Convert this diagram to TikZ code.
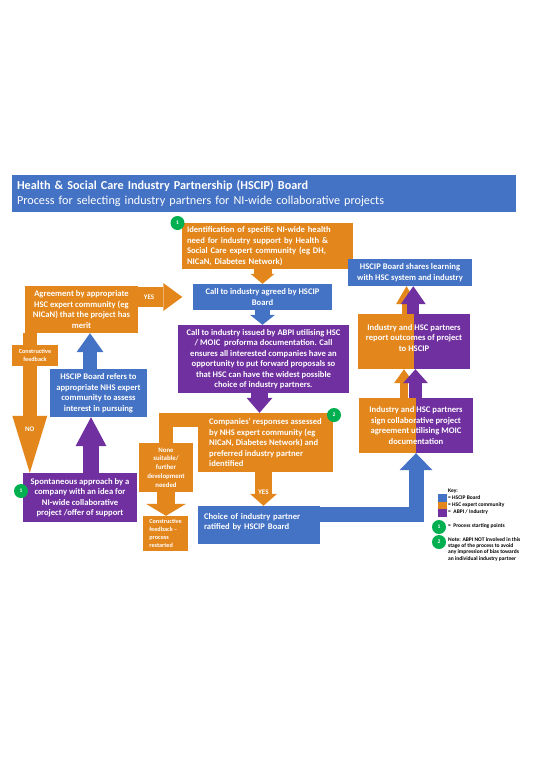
\documentclass[tikz,border=0pt]{standalone}
\usepackage{fontspec}
\setmainfont{Carlito}
\usetikzlibrary{arrows.meta,positioning}
\definecolor{hscblue}{HTML}{4472C4}
\definecolor{hscorange}{HTML}{E3861B}
\definecolor{hscpurple}{HTML}{7030A0}
\definecolor{hscgreen}{HTML}{00B050}

\begin{document}
\begin{tikzpicture}[
  x=1pt, y=-1pt,
  every node/.style={text=white, font=\bfseries\fontsize{8.6}{10.5}\selectfont, inner sep=0pt},
  hscbox/.style={rectangle, align=center},
  bluebox/.style={hscbox, fill=hscblue},
  orangebox/.style={hscbox, fill=hscorange},
  purplebox/.style={hscbox, fill=hscpurple},
  splitbox/.style={hscbox, path picture={
      \fill[hscorange] (path picture bounding box.south west) rectangle (path picture bounding box.north);
      \fill[hscpurple] (path picture bounding box.north) rectangle (path picture bounding box.south east);}},
  boxsize/.style 2 args={minimum width=#1, minimum height=#2},
  smalltext/.style={font=\bfseries\fontsize{6.2}{7.8}\selectfont},
  keytext/.style={text=black, font=\bfseries\fontsize{5.5}{6.4}\selectfont, anchor=west, align=left},
  startpt/.style={circle, fill=hscgreen, minimum size=14pt, font=\bfseries\fontsize{5.5}{6}\selectfont},
  fat/.style n args={3}{line width=#1, line join=miter, -{Triangle[width=#2, length=#3, line width=0pt]}},
  band/.style={line width=#1, line join=miter}
]
  \path [fill=white, use as bounding box] (0,0) rectangle (540,764);

  \node (title) [bluebox, boxsize={504pt}{37pt}, align=left, text width=494pt, font=\fontsize{12.2}{15}\selectfont] at (264,193.5)
    {\textbf{Health \& Social Care Industry Partnership (HSCIP) Board}\\Process for selecting industry partners for NI-wide collaborative projects};

  % middle column
  \node (ident) [orangebox, boxsize={171pt}{46pt}, align=left, text width=161pt] at (267.5,246)
    {Identification of specific NI-wide health\\need for industry support by Health \&\\Social Care expert community (eg DH,\\NICaN, Diabetes Network)};
  \node (callagreed) [bluebox, boxsize={139pt}{26pt}] at (262.5,297) {Call to industry agreed by HSCIP\\Board};
  \node (callissued) [purplebox, boxsize={171pt}{68pt}] at (263.5,359)
    {Call to industry issued by ABPI utilising HSC\\/ MOIC~ proforma documentation. Call\\ensures all interested companies have an\\opportunity to put forward proposals so\\that HSC can have the widest possible\\choice of industry partners.};
  \node (companies) [orangebox, boxsize={135pt}{59pt}, align=left] at (265.5,442.5)
    {Companies’ responses assessed\\by NHS expert community (eg\\NICaN, Diabetes Network) and\\preferred industry partner\\identified};
  \node (nonesuit) [orangebox, boxsize={54pt}{49pt}, font=\bfseries\fontsize{6.8}{8.8}\selectfont] at (166,467.5)
    {None\\suitable/\\further\\development\\needed};
  \node (restart) [orangebox, boxsize={45pt}{35pt}, align=left, smalltext] at (165.5,533.5)
    {Constructive\\feedback –\\process\\restarted};
  \node (choice) [bluebox, boxsize={122pt}{38pt}, align=left, text width=110pt] at (259,525)
    {Choice of industry partner\\ratified by HSCIP Board\\[-3pt]~};

  % right column
  \node (sign) [splitbox, boxsize={114pt}{55pt}] at (416,425.5)
    {Industry and HSC partners\\sign collaborative project\\agreement utilising MOIC\\documentation};
  \node (report) [splitbox, boxsize={112pt}{55pt}] at (414,341.5)
    {Industry and HSC partners\\report outcomes of project\\to HSCIP\\[-3pt]~};
  \node (shares) [bluebox, boxsize={124pt}{27pt}] at (410,272.5)
    {HSCIP Board shares learning\\with HSC system and industry};

  % left column
  \node (agree) [orangebox, boxsize={113pt}{47pt}] at (81.5,309.5)
    {Agreement by appropriate\\HSC expert community (eg\\NICaN) that the project has\\merit};
  \node (refer) [bluebox, boxsize={97pt}{48pt}] at (98.5,393)
    {HSCIP Board refers to\\appropriate NHS expert\\community to assess\\interest in pursuing};
  \node (spont) [purplebox, boxsize={114pt}{49pt}] at (80,497.5)
    {Spontaneous approach by a\\company with an idea for\\NI-wide collaborative\\project /offer of support};

  % connectors
  \draw [fat={18pt}{24pt}{10pt}, draw=hscorange] (ident.south -| callagreed.north) -- (callagreed.north);
  \draw [fat={15pt}{25pt}{10pt}, draw=hscblue] (callagreed.south) -- (callagreed.south |- callissued.north);
  \draw [fat={17pt}{26pt}{15pt}, draw=hscpurple] ([xshift=-4pt]callissued.south) -- ([xshift=-4pt]callissued.south |- companies.north);
  \draw [fat={17pt}{27pt}{12pt}, draw=hscorange] ([xshift=-2pt]companies.south) -- ([xshift=-2pt]companies.south |- choice.north)
    node (yesdown) [pos=0.59, font=\bfseries\fontsize{7}{8}\selectfont] {YES};
  \draw [band=14pt, draw=hscorange] ([yshift=-7pt]companies.north west) -| (nonesuit.north);
  \draw [fat={18pt}{40pt}{12pt}, draw=hscorange] (nonesuit.south) -- (nonesuit.south |- restart.north);
  \draw [fat={15pt}{33pt}{17pt}, draw=hscblue] ([yshift=10.5pt]choice.east) -| (sign.south);

  \draw [fat={8pt}{20pt}{14pt}, draw=hscorange] ([xshift=-12pt]sign.north) -- ([xshift=-12pt]sign.north |- report.south);
  \draw [fat={13pt}{25pt}{14pt}, draw=hscpurple] ([xshift=-0.5pt]sign.north) -- ([xshift=-0.5pt]sign.north |- report.south);
  \draw [fat={10pt}{21pt}{18pt}, draw=hscorange] ([xshift=-7.5pt]report.north) -- ([xshift=-7.5pt]report.north |- shares.south);
  \draw [fat={12pt}{25pt}{18pt}, draw=hscpurple] ([xshift=-0.7pt]report.north) -- ([xshift=-0.7pt]report.north |- shares.south);

  \draw [fat={20pt}{28pt}{19pt}, draw=hscorange, shorten >=10.5pt] (agree.east |- callagreed.west) -- (callagreed.west)
    node (yestop) [pos=0.2, font=\bfseries\fontsize{7}{8}\selectfont] {YES};
  \draw [fat={14pt}{27pt}{19pt}, draw=hscblue] ([xshift=-8.5pt]refer.north) -- ([xshift=-8.5pt]refer.north |- agree.south);
  \draw [fat={16pt}{31pt}{29pt}, draw=hscpurple] ([xshift=11pt]spont.north) -- ([xshift=11pt]spont.north |- refer.south);
  \draw [fat={14pt}{35pt}{57pt}, draw=hscorange] ([xshift=5pt]agree.south west) -- ([xshift=5pt]agree.south west |- spont.north)
    node (no) [pos=0.69, font=\bfseries\fontsize{7}{8}\selectfont] {NO};
  \node (feedback) [orangebox, boxsize={46pt}{21pt}, smalltext] at (35,355.5) {Constructive\\feedback};

  % starting points
  \node (startident) [startpt] at (177.5,223) {1};
  \node (startspont) [startpt] at (21,491) {1};
  \node (startresp) [startpt] at (334,415) {2};

  % key
  \node (keyhead) [keytext] at (448,491) {Key:};
  \node (keyblue) [fill=hscblue, minimum width=9pt, minimum height=7.7pt] at (442.5,497.8) {};
  \node (keyorange) [fill=hscorange, minimum width=9pt, minimum height=7.7pt] at (442.5,505.5) {};
  \node (keypurple) [fill=hscpurple, minimum width=9pt, minimum height=7.7pt] at (442.5,513.2) {};
  \node (keybluetext) [keytext] at (448,498) {= HSCIP Board};
  \node (keyorangetext) [keytext] at (448,505) {= HSC expert community};
  \node (keypurpletext) [keytext] at (448,512) {=~ ABPI / Industry};
  \node (keyone) [startpt] at (439,527) {1};
  \node (keyonetext) [keytext] at (448,526.5) {=~ Process starting points};
  \node (keytwo) [startpt] at (439,542) {2};
  \node (keynote) [keytext, anchor=north west] at (448,537)
    {Note: ABPI NOT involved in this\\stage of the process to avoid\\any impression of bias towards\\an individual industry partner};
\end{tikzpicture}
\end{document}
